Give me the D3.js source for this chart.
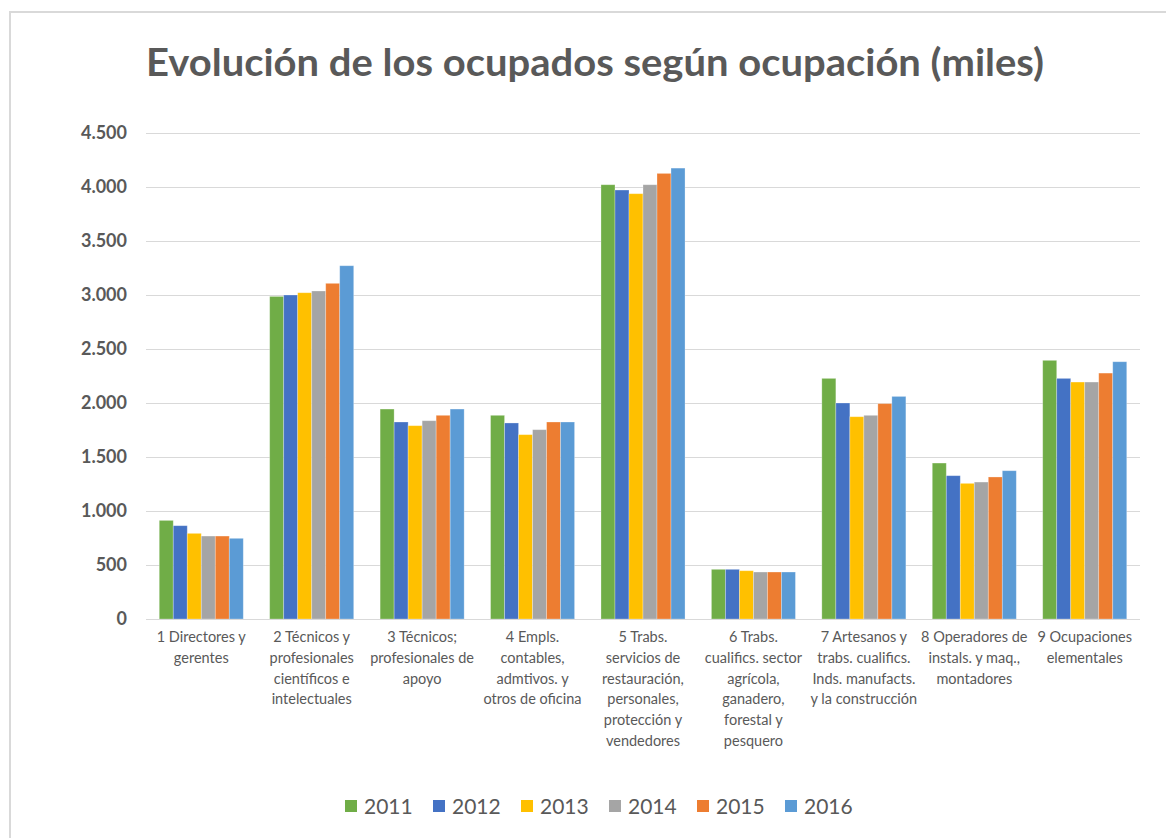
<!DOCTYPE html>
<html>
<head>
  <meta charset="utf-8"/>
  <title>Evolución de los ocupados</title>
  <script src="https://d3js.org/d3.v7.min.js"></script>
  <style>
    body { margin: 0; background: #fff; }
    text { font-family: Lato, "Open Sans", sans-serif; fill: #595959; }
  </style>
</head>
<body>
<div id="chart"></div>
<script>
// categories (x axis labels, already split in lines)
var categories = [
  ["1 Directores y", "gerentes"],
  ["2 Técnicos y", "profesionales", "científicos e", "intelectuales"],
  ["3 Técnicos;", "profesionales de", "apoyo"],
  ["4 Empls.", "contables,", "admtivos. y", "otros de oficina"],
  ["5 Trabs.", "servicios de", "restauración,", "personales,", "protección y", "vendedores"],
  ["6 Trabs.", "cualifics. sector", "agrícola,", "ganadero,", "forestal y", "pesquero"],
  ["7 Artesanos y", "trabs. cualifics.", "Inds. manufacts.", "y la construcción"],
  ["8 Operadores de", "instals. y maq.,", "montadores"],
  ["9 Ocupaciones", "elementales"]
];
var years = ["2011", "2012", "2013", "2014", "2015", "2016"];
var colors = ["#70ad47", "#4472c4", "#ffc000", "#a5a5a5", "#ed7d31", "#5b9bd5"];

// values in thousands, one array per year
var v2011 = [913, 2987, 1944, 1886, 4021, 460, 2228, 1444, 2395];
var v2012 = [864, 3000, 1824, 1815, 3972, 460, 2000, 1327, 2228];
var v2013 = [793, 3021, 1790, 1707, 3938, 447, 1873, 1256, 2194];
var v2014 = [768, 3037, 1836, 1753, 4021, 435, 1886, 1268, 2194];
var v2015 = [768, 3108, 1886, 1824, 4126, 435, 1994, 1315, 2277];
var v2016 = [747, 3271, 1944, 1824, 4175, 435, 2061, 1373, 2382];
var series = [v2011, v2012, v2013, v2014, v2015, v2016];

var yTicks = [0, 500, 1000, 1500, 2000, 2500, 3000, 3500, 4000, 4500];

var width = 1166, height = 838;
var plotLeft = 146, plotRight = 1140, plotTop = 133, plotBottom = 619;

var svg = d3.select("#chart").append("svg")
  .attr("width", width)
  .attr("height", height);

// chart frame
svg.append("rect")
  .attr("x", 10).attr("y", 12)
  .attr("width", 1200).attr("height", 900)
  .attr("fill", "#fff")
  .attr("stroke", "#d9d9d9")
  .attr("stroke-width", 2);

// title
svg.append("text")
  .attr("x", 595).attr("y", 76)
  .attr("text-anchor", "middle")
  .attr("textLength", 898)
  .attr("lengthAdjust", "spacingAndGlyphs")
  .style("font-size", "38px")
  .style("font-weight", "bold")
  .text("Evolución de los ocupados según ocupación (miles)");

var x = d3.scaleBand()
  .domain(d3.range(categories.length))
  .range([plotLeft, plotRight])
  .paddingInner(0.239)
  .paddingOuter(0.12);

var xInner = d3.scaleBand()
  .domain(years)
  .range([0, x.bandwidth()]);

var y = d3.scaleLinear()
  .domain([0, 4500])
  .range([plotBottom, plotTop]);

// gridlines
svg.append("g")
  .selectAll("line")
  .data(yTicks.slice(1))
  .enter().append("line")
  .attr("x1", plotLeft).attr("x2", plotRight)
  .attr("y1", function(d) { return Math.round(y(d)) + 0.5; })
  .attr("y2", function(d) { return Math.round(y(d)) + 0.5; })
  .attr("stroke", "#d9d9d9")
  .attr("stroke-width", 1);

// y axis labels
var yAxis = svg.append("g")
  .attr("transform", "translate(" + (plotLeft - 19) + ",0)")
  .call(d3.axisLeft(y).tickValues(yTicks).tickSize(0)
    .tickFormat(function(d) { return d3.format(",")(d).replace(/,/g, "."); }));
yAxis.select(".domain").remove();
yAxis.selectAll("text")
  .attr("x", 0)
  .style("font-size", "18px")
  .style("font-weight", "bold")
  .style("font-family", "Lato, sans-serif")
  .style("fill", "#595959");

// bars
var groups = svg.append("g")
  .selectAll("g")
  .data(series)
  .enter().append("g")
  .attr("fill", function(d, i) { return colors[i]; });

groups.each(function(vals, si) {
  d3.select(this).selectAll("rect")
    .data(vals)
    .enter().append("rect")
    .attr("x", function(d, ci) { return x(ci) + xInner(years[si]); })
    .attr("y", function(d) { return y(d); })
    .attr("width", xInner.bandwidth())
    .attr("height", function(d) { return plotBottom - y(d); })
    .attr("stroke", "#ffffff")
    .attr("stroke-opacity", 0.35)
    .attr("stroke-width", 0.8);
});

// baseline
svg.append("line")
  .attr("x1", plotLeft).attr("x2", plotRight)
  .attr("y1", plotBottom + 0.5).attr("y2", plotBottom + 0.5)
  .attr("stroke", "#d9d9d9");

// x labels
var xl = svg.append("g")
  .selectAll("text")
  .data(categories)
  .enter().append("text")
  .attr("text-anchor", "middle")
  .style("font-size", "14.5px");

xl.selectAll("tspan")
  .data(function(d, i) { return d.map(function(s) { return { s: s, i: i }; }); })
  .enter().append("tspan")
  .attr("x", function(d) { return x(d.i) + x.bandwidth() / 2; })
  .attr("y", function(d, j) { return 642 + j * 20.8; })
  .text(function(d) { return d.s; });

// legend
var legend = svg.append("g")
  .selectAll("g")
  .data(years)
  .enter().append("g")
  .attr("transform", function(d, i) { return "translate(" + (345 + i * 88) + ",806)"; });

legend.append("rect")
  .attr("x", 0).attr("y", -6)
  .attr("width", 12).attr("height", 12)
  .attr("fill", function(d, i) { return colors[i]; });

legend.append("text")
  .attr("x", 19).attr("y", 8)
  .style("font-size", "21px")
  .text(function(d) { return d; });
</script>
</body>
</html>
